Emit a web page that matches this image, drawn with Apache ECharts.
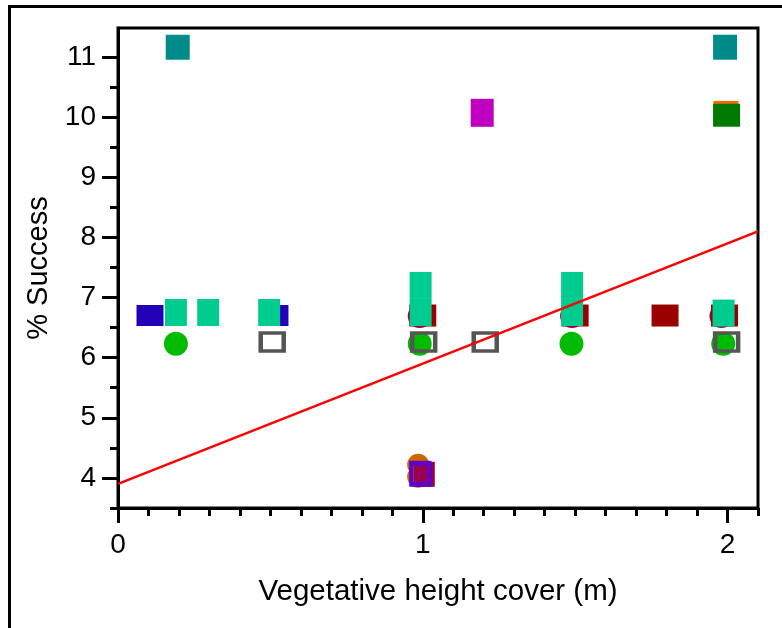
<!DOCTYPE html>
<html>
<head>
<meta charset="utf-8">
<script src="https://cdn.jsdelivr.net/npm/echarts@6/dist/echarts.min.js"></script>
<style>
  html, body { margin: 0; padding: 0; background: #fff; }
  #chart { width: 782px; height: 628px; }
</style>
</head>
<body>
<div id="chart"></div>
<script>
// tick labels
var xTicks = [0, 1, 2]
var yTicks = [4, 5, 6, 7, 8, 9, 10, 11]

// point groups, [height cover, % success]
var orangeCircles = [[0.985, 4.02], [0.985, 4.22]]
var plumCircles = [[0.99, 6.69], [1.49, 6.69], [1.98, 6.69]]
var blueSquares = [[0.105, 6.7], [0.515, 6.7]]
var redSquares = [[1.0, 6.7], [1.5, 6.7], [1.795, 6.7], [1.99, 6.7]]
var wineSquares = [[1.005, 4.06]]
var purpleOpen = [[0.992, 4.07]]
var greenCircles = [[0.19, 6.23], [0.99, 6.23], [1.488, 6.23], [1.986, 6.23]]
var greyOpen = [[0.506, 6.26], [1.003, 6.26], [1.205, 6.26], [1.997, 6.26]]
var mintSquares = [[0.19, 6.75], [0.296, 6.75], [0.496, 6.75], [0.993, 6.75], [0.993, 7.2], [1.49, 6.75], [1.49, 7.2], [1.987, 6.74]]
var tealSquares = [[0.196, 11.16], [1.992, 11.16]]
var magentaSquares = [[1.195, 10.07]]
var orangeSquares = [[1.995, 10.06]]
var greenSquares = [[1.997, 10.03]]
// regression line end points
var fitLine = [[0, 3.9], [2.1, 8.1]]

var xMinor = []
for (var i = 0; i <= 21; i++) xMinor.push(+(i * 0.1).toFixed(1))
var yMinor = []
for (var j = 0; j <= 15; j++) yMinor.push(3.5 + j * 0.5)

var font = 'Liberation Sans, Arial, sans-serif'
var black = { color: '#000', width: 3 }

function pts(data, color, symbol, size, extra) {
  var s = {
    type: 'scatter', data: data, symbol: symbol, symbolSize: size,
    itemStyle: { color: color, opacity: 1 }, silent: true
  }
  if (extra) s.itemStyle = Object.assign(s.itemStyle, extra)
  return s
}

var myChart = echarts.init(document.getElementById('chart'), null, { renderer: 'canvas' })
myChart.setOption({
  animation: false,
  backgroundColor: '#fff',
  graphic: [{
    type: 'rect', z: 100,
    shape: { x: 9.5, y: 6.5, width: 800, height: 700 },
    style: { fill: 'none', stroke: '#000', lineWidth: 3 }
  }],
  grid: {
    left: 118, top: 28, width: 640, height: 480,
    show: true, borderColor: '#000', borderWidth: 3, backgroundColor: 'transparent'
  },
  xAxis: [{
    type: 'value', min: 0, max: 2.1, position: 'bottom',
    axisLine: { show: true, onZero: false, lineStyle: black },
    axisTick: { show: true, customValues: xTicks, length: 15, lineStyle: black },
    axisLabel: { customValues: xTicks, fontSize: 28, color: '#000', fontFamily: font, margin: 23 },
    splitLine: { show: false },
    name: 'Vegetative height cover (m)', nameLocation: 'middle', nameGap: 69,
    nameTextStyle: { fontSize: 29.5, color: '#000', fontFamily: font }
  }, {
    type: 'value', min: 0, max: 2.1, position: 'bottom',
    axisLine: { show: false },
    axisTick: { show: true, customValues: xMinor, length: 8, lineStyle: black },
    axisLabel: { show: false }, splitLine: { show: false }
  }],
  yAxis: [{
    type: 'value', min: 3.5, max: 11.48, position: 'left',
    axisLine: { show: true, onZero: false, lineStyle: black },
    axisTick: { show: true, customValues: yTicks, length: 16, lineStyle: black },
    axisLabel: { customValues: yTicks, fontSize: 28, color: '#000', fontFamily: font, margin: 22 },
    splitLine: { show: false },
    name: '% Success', nameLocation: 'middle', nameGap: 59, nameRotate: 90,
    nameTextStyle: { fontSize: 29, color: '#000', fontFamily: font }
  }, {
    type: 'value', min: 3.5, max: 11.48, position: 'left',
    axisLine: { show: false },
    axisTick: { show: true, customValues: yMinor, length: 8, lineStyle: black },
    axisLabel: { show: false }, splitLine: { show: false }
  }],
  series: [
    pts(orangeCircles, '#cc6600', 'circle', 22),
    pts(plumCircles, '#990055', 'circle', 24),
    pts(blueSquares, '#2200b8', 'rect', [27, 21]),
    pts(redSquares, '#990000', 'rect', [27, 22]),
    pts(wineSquares, '#99004f', 'rect', [21, 25]),
    pts(purpleOpen, 'transparent', 'rect', [18, 21], { borderColor: '#5f00c8', borderWidth: 4.5 }),
    pts(greenCircles, '#00bb00', 'circle', 24),
    pts(greyOpen, 'transparent', 'rect', [23, 18], { borderColor: '#555555', borderWidth: 4 }),
    pts(mintSquares, '#00cc8f', 'rect', [22, 27]),
    pts(tealSquares, '#008b8b', 'rect', [24, 25]),
    pts(magentaSquares, '#c000c0', 'rect', [23, 28]),
    pts(orangeSquares, '#ff6600', 'rect', [25, 25]),
    pts(greenSquares, '#007a00', 'rect', [27, 23]),
    {
      type: 'line', data: fitLine, showSymbol: false, silent: true,
      lineStyle: { color: '#ff0000', width: 2.5 }
    }
  ]
})
</script>
</body>
</html>
